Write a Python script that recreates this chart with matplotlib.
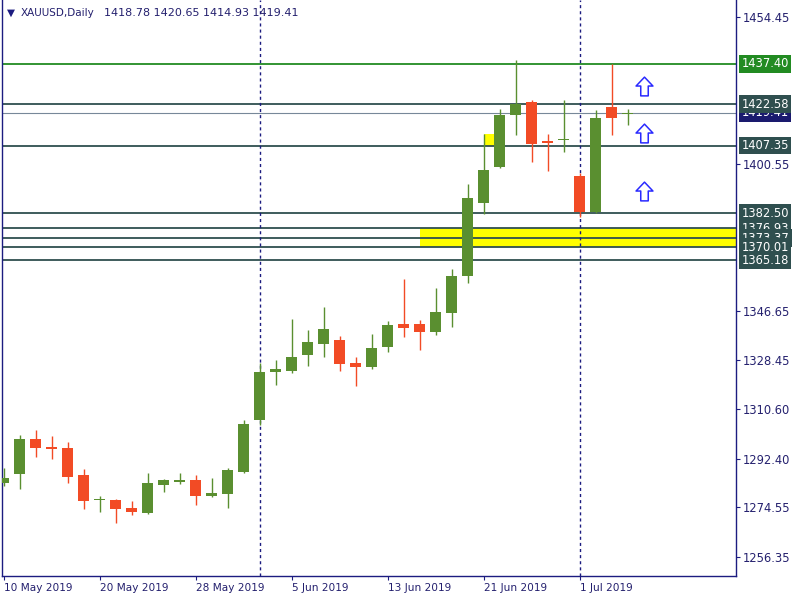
import matplotlib
matplotlib.use("Agg")
import matplotlib.pyplot as plt
from matplotlib.path import Path
from matplotlib.patches import Rectangle
import matplotlib.transforms as mtransforms

# daily XAUUSD candles, 10 May 2019 .. 4 Jul 2019
opens = [1283.52, 1286.83, 1299.57, 1296.63, 1296.27, 1286.35, 1276.99, 1277.17, 1274.23, 1272.51,
         1282.79, 1283.89, 1284.52, 1278.75, 1279.49, 1287.56, 1306.66, 1324.29, 1324.66, 1330.53,
         1334.57, 1335.93, 1327.48, 1326.13, 1333.47, 1341.81, 1341.81, 1338.98, 1345.96, 1359.55,
         1386.36, 1399.58, 1418.68, 1423.34, 1408.91, 1409.27, 1396.16, 1383.05, 1421.50, 1418.78]
highs = [1288.92, 1301.04, 1302.88, 1300.67, 1298.47, 1288.56, 1278.64, 1277.54, 1276.80, 1287.09,
         1284.88, 1287.09, 1286.35, 1285.25, 1288.92, 1306.55, 1327.60, 1328.59, 1343.64, 1339.60,
         1348.05, 1337.40, 1329.69, 1338.14, 1342.91, 1358.33, 1343.28, 1355.03, 1362.01, 1393.22,
         1411.59, 1420.77, 1438.76, 1424.07, 1411.59, 1424.07, 1397.26, 1420.40, 1437.40, 1420.65]
lows = [1282.42, 1281.21, 1293.07, 1292.23, 1283.52, 1273.97, 1272.87, 1268.83, 1271.77, 1272.14,
        1280.22, 1283.16, 1275.45, 1278.38, 1274.34, 1287.20, 1304.83, 1319.51, 1323.92, 1326.49,
        1329.80, 1324.66, 1319.15, 1325.39, 1331.63, 1337.14, 1332.37, 1337.88, 1340.82, 1356.87,
        1382.21, 1399.21, 1411.33, 1401.41, 1398.11, 1405.09, 1381.21, 1382.46, 1411.33, 1414.93]
closes = [1285.25, 1299.57, 1296.38, 1296.01, 1285.73, 1276.91, 1277.17, 1273.97, 1272.87, 1283.41,
          1284.52, 1284.52, 1278.75, 1279.74, 1288.19, 1305.08, 1324.18, 1325.28, 1329.69, 1335.20,
          1339.97, 1327.23, 1326.13, 1332.99, 1341.44, 1340.45, 1338.98, 1346.21, 1359.44, 1388.08,
          1398.37, 1418.68, 1422.60, 1408.03, 1408.39, 1409.49, 1383.05, 1417.46, 1417.57, 1419.41]

date_pos = [0, 6, 12, 18, 24, 30, 36]
date_labels = ['10 May 2019', '20 May 2019', '28 May 2019', '5 Jun 2019',
               '13 Jun 2019', '21 Jun 2019', '1 Jul 2019']
month_breaks = [16, 36]

price_ticks = [1454.45, 1400.55, 1346.65, 1328.45, 1310.60, 1292.40, 1274.55, 1256.35]

green_level = 1437.40
dark_levels = [1422.58, 1407.35, 1382.50, 1376.93, 1373.37, 1370.01, 1365.18]
bid = 1419.41

zone_big = (26, 1370.01, 1376.93)     # start bar, low, high
zone_small = (30, 31, 1407.35, 1411.59)
arrow_x = [40, 40, 40]
arrow_y = [1429.2, 1411.95, 1390.65]

symbol_txt = 'XAUUSD,Daily'
ohlc_txt = '1418.78 1420.65 1414.93 1419.41'

UP = '#5a8f30'
DOWN = '#f24b25'
NAVY = '#1c1c80'
TXT = '#24206e'
SLATE = '#2f4f4f'

fig = plt.figure(figsize=(8, 6), dpi=100)
ax = fig.add_axes([2/800, 24/600, 734/800, 576/600])
ax.set_xlim(-0.094, 45.78)
ax.set_ylim(1249.26, 1460.80)

# zones
ax.add_patch(Rectangle((zone_big[0], zone_big[1]), 40, zone_big[2] - zone_big[1],
                       facecolor='#ffff00', edgecolor='none', zorder=1))
ax.add_patch(Rectangle((zone_small[0], zone_small[2]), zone_small[1] - zone_small[0],
                       zone_small[3] - zone_small[2], facecolor='#ffff00', edgecolor='none', zorder=1))

# horizontal levels
ax.axhline(green_level, color='#228b22', lw=1.3, zorder=2)
for lv in dark_levels:
    ax.axhline(lv, color=SLATE, lw=1.3, zorder=2)
ax.axhline(bid, color='#778899', lw=0.8, zorder=2)

# month separators
for xb in month_breaks:
    ax.axvline(xb, color=NAVY, lw=1.0, linestyle=(0, (2.2, 2.2)), zorder=2)

# candles
for i in range(len(opens)):
    o, h, l, c = opens[i], highs[i], lows[i], closes[i]
    col = UP if c >= o else DOWN
    ax.vlines(i, l, h, color=col, lw=1.0, zorder=3)
    lo = min(o, c)
    hgt = max(abs(c - o), 0.45)
    ax.bar(i, hgt, bottom=lo, width=0.68, color=col, linewidth=0, zorder=4)

# arrows
arrow = Path([(-0.9, 0.05), (0, 1), (0.9, 0.05), (0.4, 0.05), (0.4, -1),
              (-0.4, -1), (-0.4, 0.05), (-0.9, 0.05)],
             [Path.MOVETO] + [Path.LINETO] * 6 + [Path.CLOSEPOLY])
ax.plot(arrow_x, arrow_y, linestyle='none', marker=arrow, markersize=13.5,
        markerfacecolor='white', markeredgecolor='#2a2aff', markeredgewidth=1.1, zorder=5)

# axes style
for s in ['left', 'right', 'bottom']:
    ax.spines[s].set_color(NAVY)
    ax.spines[s].set_linewidth(1.0)
ax.spines['top'].set_visible(False)

ax.yaxis.tick_right()
ax.set_yticks(price_ticks)
ax.set_yticklabels(['%.2f' % p for p in price_ticks])
ax.tick_params(axis='y', direction='out', length=3, width=0.8, colors=NAVY,
               labelcolor=TXT, labelsize=8.3, pad=2)
ax.set_xticks(date_pos)
ax.set_xticklabels(date_labels, ha='left')
ax.tick_params(axis='x', direction='out', length=3, width=0.8, colors=NAVY,
               labelcolor=TXT, labelsize=7.6, pad=2)

# price labels on the right
trans = mtransforms.blended_transform_factory(ax.transAxes, ax.transData)
boxes = [(bid, '#1a1a6e'), (green_level, '#228b22')] + [(lv, SLATE) for lv in dark_levels]
for val, fc in boxes:
    ax.text(1.0075, val, '%.2f' % val, transform=trans, ha='left', va='center',
            fontsize=8.3, color='white', clip_on=False, zorder=10,
            bbox=dict(boxstyle='square,pad=0.2', facecolor=fc, edgecolor='none'))

# title
fig.text(7/800, 1 - 13/600, '\u25bc', fontsize=7.5, color=NAVY, va='center', ha='left')
fig.text(21/800, 1 - 13/600, symbol_txt, fontsize=7.5, color=TXT, va='center', ha='left')
fig.text(104/800, 1 - 13/600, ohlc_txt, fontsize=8, color=TXT, va='center', ha='left')

fig.savefig('out.png', dpi=100)
